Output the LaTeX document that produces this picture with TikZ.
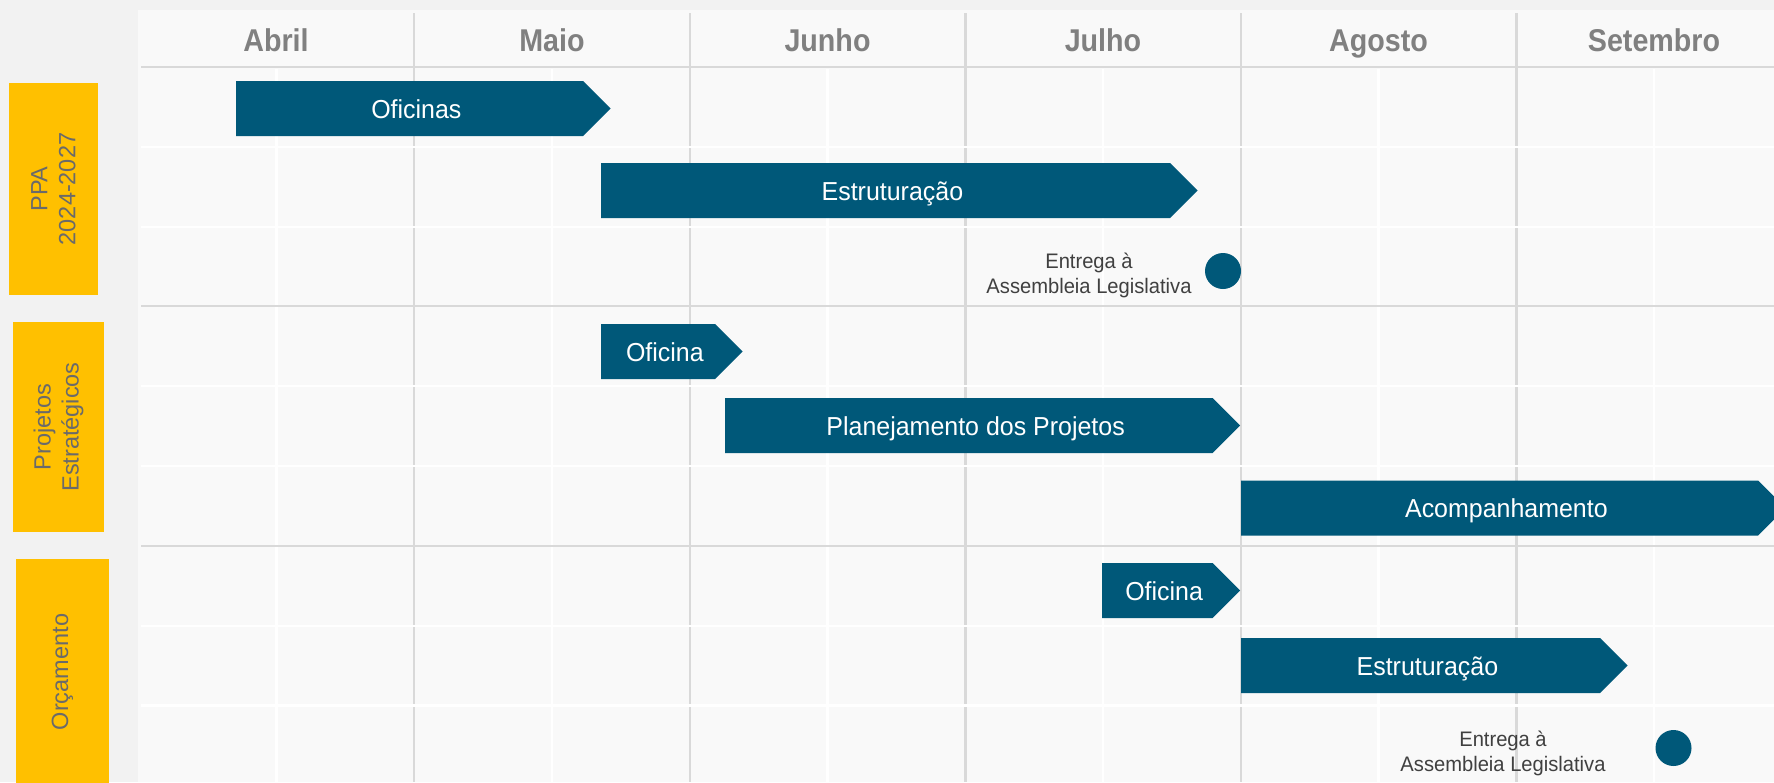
\documentclass[tikz,border=0pt]{standalone}
\usepackage{fontspec}
\setmainfont{Liberation Sans}
\newfontfamily\barfont{Liberation Sans}[FakeStretch=0.96]
\newfontfamily\monthfont{Liberation Sans}[FakeStretch=0.91]
\definecolor{bgc}{HTML}{F2F2F2}
\definecolor{panelc}{HTML}{F9F9F9}
\definecolor{gridc}{HTML}{D9D9D9}
\definecolor{barblue}{HTML}{005879}
\definecolor{catyellow}{HTML}{FFC000}
\definecolor{monthc}{HTML}{808080}
\definecolor{catc}{HTML}{6A6A6A}
\definecolor{smallc}{HTML}{404040}
\newcommand{\ganttbar}[6]{%
  \fill[barblue] (#2,#4) -- (#3,#4) -- ({#3+27.5},{(#4+#5)/2}) -- (#3,#5) -- (#2,#5) -- cycle;
  \node[bartext] (#1) at ({(#2+#3+13.75)/2},{(#4+#5)/2+9.5}) {#6};
}
\begin{document}
\begin{tikzpicture}[x=1pt,y=-1pt,
  bartext/.style={anchor=base, text=white, inner sep=0pt, font=\barfont\fontsize{26}{30}\selectfont},
  monthlabel/.style={anchor=base, text=monthc, inner sep=0pt, font=\monthfont\bfseries\fontsize{31.5}{36}\selectfont},
  catbox/.style={fill=catyellow, rotate=90, align=center, text=catc, inner sep=0pt, font=\fontsize{23.5}{28}\selectfont},
  milestone/.style={circle, fill=barblue, minimum size=36pt, inner sep=0pt},
  smalltext/.style={anchor=base, align=center, text=smallc, inner sep=0pt, font=\barfont\fontsize{21}{25}\selectfont},
  gline/.style={draw=gridc, line width=2.6pt},
  wline/.style={draw=white, line width=2.6pt}
]
\useasboundingbox (0,0) rectangle (1774,782);
\fill[bgc] (0,0) rectangle (1774,782);
\fill[panelc] (138,10) rectangle (1774,782);
% month lines
\foreach \x in {414,690,965.5,1241,1516.5} \draw[gline] (\x,13) -- (\x,782);
% half-month lines
\foreach \x in {276.5,552,827.5,1103,1378.5,1654} \draw[wline] (\x,68.5) -- (\x,782);
% row lines
\foreach \y in {147,227,386,466,626,705.5} \draw[wline] (141,\y) -- (1774,\y);
% section lines
\foreach \y in {67,306,546} \draw[gline] (141,\y) -- (1774,\y);
% month labels
\node[monthlabel] (abr) at (276,51) {Abril};
\node[monthlabel] (mai) at (552,51) {Maio};
\node[monthlabel] (jun) at (827.5,51) {Junho};
\node[monthlabel] (jul) at (1103,51) {Julho};
\node[monthlabel] (ago) at (1378.5,51) {Agosto};
\node[monthlabel] (set) at (1654,51) {Setembro};
% category boxes
\node[catbox, minimum width=212pt, minimum height=89pt] (ppa) at (53.5,189) {PPA\\2024-2027};
\node[catbox, minimum width=210pt, minimum height=91pt] (proj) at (58.5,427) {Projetos\\Estratégicos};
\node[catbox, minimum width=226pt, minimum height=93pt] (orc) at (62.5,672) {Orçamento};
% bars
\ganttbar{b1}{236}{583}{81}{136}{Oficinas}
\ganttbar{b2}{601}{1170}{163}{218}{Estruturação}
\ganttbar{b3}{601}{715}{324}{379}{Oficina}
\ganttbar{b4}{725}{1212.5}{398}{453}{Planejamento dos Projetos}
\ganttbar{b5}{1241}{1758}{480.5}{535.5}{Acompanhamento}
\ganttbar{b6}{1102}{1212.5}{563}{618}{Oficina}
\ganttbar{b7}{1241}{1600}{638}{693}{Estruturação}
% milestones
\node[milestone] (m1) at (1223,271) {};
\node[milestone] (m2) at (1673.5,748) {};
\node[smalltext] (t1) at (1089,293) {Entrega à\\Assembleia Legislativa};
\node[smalltext] (t2) at (1503,771) {Entrega à\\Assembleia Legislativa};
\end{tikzpicture}
\end{document}
